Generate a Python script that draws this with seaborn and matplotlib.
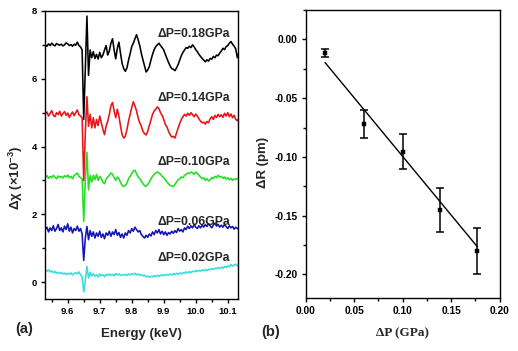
import numpy as np
import pandas as pd
import matplotlib
matplotlib.use("Agg")
import matplotlib.pyplot as plt
import seaborn as sns
from matplotlib.ticker import MultipleLocator, FormatStrFormatter

# ---------------- data: panel (a) ----------------
energy_keV = np.linspace(9.530, 10.135, 122)

chi_018 = [7.00, 6.96, 7.03, 6.98, 7.05, 7.00, 6.97, 7.04, 7.01, 6.99,
           7.02, 6.97, 7.00, 7.06, 7.03, 6.98, 7.01, 6.96, 7.02, 6.99,
           7.08, 6.98, 6.94, 6.85, 4.80, 6.30, 7.85, 6.10, 6.85, 6.62,
           6.80, 6.60, 6.72, 6.58, 6.78, 6.62, 6.70, 6.85, 6.98, 6.70,
           6.82, 7.05, 7.18, 6.85, 6.59, 6.90, 7.08, 6.75, 6.45, 6.30,
           6.22, 6.32, 6.55, 6.74, 6.95, 7.05, 7.18, 7.30, 7.15, 6.98,
           6.75, 6.56, 6.38, 6.20, 6.26, 6.36, 6.55, 6.72, 6.86, 6.95,
           7.00, 7.05, 6.98, 6.92, 6.85, 6.72, 6.60, 6.48, 6.38, 6.30,
           6.28, 6.24, 6.32, 6.42, 6.55, 6.68, 6.78, 6.85, 6.92, 6.90,
           6.96, 6.92, 7.00, 6.94, 6.86, 6.80, 6.72, 6.66, 6.60, 6.55,
           6.50, 6.56, 6.52, 6.60, 6.58, 6.66, 6.62, 6.70, 6.68, 6.76,
           6.82, 6.90, 6.86, 6.95, 6.98, 7.05, 7.10, 7.02, 6.96, 6.88,
           6.62, 6.78]

chi_014 = [4.95, 5.02, 4.90, 4.98, 5.06, 4.92, 4.88, 5.00, 4.94, 5.04,
           4.90, 4.97, 5.03, 4.92, 4.99, 4.86, 4.95, 5.02, 4.91, 5.00,
           5.08, 4.94, 4.90, 4.85, 3.00, 4.40, 5.47, 4.60, 4.95, 4.55,
           4.85, 4.55, 4.80, 4.62, 4.90, 4.70, 4.50, 4.35, 4.60, 4.75,
           4.95, 5.20, 5.30, 5.05, 4.85, 5.10, 4.90, 4.60, 4.35, 4.25,
           4.30, 4.50, 4.75, 4.95, 5.15, 5.32, 5.20, 5.05, 4.85, 4.70,
           4.60, 4.45, 4.38, 4.34, 4.45, 4.62, 4.78, 4.95, 5.05, 5.10,
           5.17, 5.12, 5.00, 4.92, 4.80, 4.65, 4.58, 4.45, 4.35, 4.28,
           4.30, 4.25, 4.40, 4.55, 4.68, 4.80, 4.88, 4.95, 4.90, 4.98,
           4.92, 5.00, 4.94, 4.88, 4.96, 4.90, 4.82, 4.75, 4.70, 4.72,
           4.66, 4.74, 4.70, 4.82, 4.88, 4.80, 4.92, 4.86, 4.95, 4.88,
           4.94, 4.86, 4.98, 4.90, 5.00, 4.88, 4.96, 4.85, 4.92, 4.80,
           4.76, 4.85]

chi_010 = [3.10, 3.14, 3.06, 3.12, 3.08, 3.15, 3.10, 3.05, 3.13, 3.09,
           3.12, 3.07, 3.14, 3.10, 3.16, 3.08, 3.12, 3.05, 3.15, 3.18,
           3.22, 3.12, 3.08, 3.05, 1.79, 3.00, 3.83, 2.72, 3.15, 2.95,
           3.15, 3.02, 3.18, 3.00, 3.12, 3.05, 2.95, 2.90, 3.05, 3.10,
           3.15, 3.22, 3.18, 3.08, 3.00, 3.10, 3.05, 2.95, 2.85, 2.82,
           2.85, 2.92, 3.05, 3.12, 3.20, 3.28, 3.30, 3.20, 3.10, 3.05,
           2.98, 2.90, 2.85, 2.82, 2.88, 2.95, 3.05, 3.12, 3.18, 3.22,
           3.25, 3.22, 3.18, 3.12, 3.08, 3.02, 2.95, 2.90, 2.85, 2.84,
           2.82, 2.88, 2.95, 3.02, 3.05, 3.10, 3.08, 3.15, 3.18, 3.22,
           3.20, 3.25, 3.22, 3.18, 3.25, 3.20, 3.15, 3.10, 3.05, 3.08,
           3.00, 3.05, 2.98, 3.02, 3.08, 3.05, 3.12, 3.08, 3.15, 3.10,
           3.12, 3.06, 3.10, 3.04, 3.08, 3.02, 3.06, 3.00, 3.05, 3.02,
           3.06, 3.02]

chi_006 = [1.55, 1.62, 1.48, 1.60, 1.52, 1.66, 1.50, 1.58, 1.70, 1.52,
           1.60, 1.48, 1.65, 1.55, 1.72, 1.50, 1.62, 1.45, 1.58, 1.52,
           1.65, 1.50, 1.58, 1.42, 0.64, 1.30, 1.64, 1.25, 1.52, 1.35,
           1.48, 1.30, 1.45, 1.35, 1.50, 1.32, 1.42, 1.28, 1.45, 1.38,
           1.50, 1.35, 1.48, 1.40, 1.55, 1.38, 1.46, 1.32, 1.42, 1.30,
           1.45, 1.38, 1.52, 1.45, 1.58, 1.50, 1.62, 1.55, 1.48, 1.52,
           1.40, 1.35, 1.30, 1.38, 1.32, 1.42, 1.36, 1.48, 1.40, 1.52,
           1.45, 1.55, 1.42, 1.50, 1.40, 1.48, 1.38, 1.46, 1.42, 1.50,
           1.44, 1.52, 1.46, 1.58, 1.50, 1.55, 1.48, 1.60, 1.55, 1.65,
           1.58, 1.66, 1.60, 1.70, 1.62, 1.58, 1.66, 1.60, 1.68, 1.62,
           1.70, 1.64, 1.72, 1.66, 1.60, 1.68, 1.74, 1.65, 1.70, 1.62,
           1.68, 1.62, 1.70, 1.64, 1.58, 1.66, 1.60, 1.64, 1.56, 1.62,
           1.58, 1.55]

chi_002 = [0.35, 0.32, 0.36, 0.30, 0.33, 0.28, 0.31, 0.26, 0.29, 0.25,
           0.28, 0.24, 0.27, 0.22, 0.26, 0.23, 0.27, 0.21, 0.25, 0.28,
           0.24, 0.30, 0.22, 0.15, -0.29, 0.05, 0.46, 0.12, 0.28, 0.18,
           0.25, 0.17, 0.22, 0.15, 0.24, 0.18, 0.22, 0.16, 0.23, 0.19,
           0.24, 0.20, 0.23, 0.18, 0.25, 0.21, 0.24, 0.19, 0.22, 0.20,
           0.23, 0.19, 0.24, 0.21, 0.25, 0.22, 0.26, 0.21, 0.24, 0.20,
           0.22, 0.18, 0.20, 0.15, 0.18, 0.14, 0.17, 0.15, 0.19, 0.16,
           0.20, 0.17, 0.21, 0.18, 0.22, 0.19, 0.23, 0.20, 0.24, 0.21,
           0.25, 0.22, 0.26, 0.23, 0.27, 0.24, 0.28, 0.26, 0.30, 0.27,
           0.31, 0.28, 0.32, 0.30, 0.34, 0.31, 0.35, 0.32, 0.36, 0.33,
           0.37, 0.34, 0.38, 0.36, 0.40, 0.37, 0.41, 0.39, 0.43, 0.40,
           0.44, 0.41, 0.46, 0.43, 0.48, 0.45, 0.52, 0.47, 0.50, 0.53,
           0.48, 0.52]

curve_labels = ["ΔP=0.02GPa", "ΔP=0.06GPa", "ΔP=0.10GPa", "ΔP=0.14GPa", "ΔP=0.18GPa"]
curve_colors = ["#36dede", "#1414b4", "#22e022", "#e81418", "#000000"]
label_y = [0.72, 1.76, 3.53, 5.44, 7.31]
label_x = 10.108

# ---------------- data: panel (b) ----------------
dP = [0.020, 0.060, 0.100, 0.138, 0.177]
dR = [-0.0114, -0.0719, -0.0954, -0.1454, -0.180]
dR_err = [0.0033, 0.0117, 0.015, 0.0187, 0.0197]
fit_slope = -0.998
fit_intercept = 0.0002

# ---------------- style ----------------
sns.set_theme(style="ticks")
plt.rcParams["font.family"] = ["Liberation Sans", "DejaVu Sans"]
plt.rcParams["font.weight"] = "bold"
plt.rcParams["mathtext.fontset"] = "custom"
plt.rcParams["mathtext.rm"] = "Liberation Sans:bold"
plt.rcParams["mathtext.it"] = "Liberation Sans:bold"
plt.rcParams["mathtext.bf"] = "Liberation Sans:bold"
plt.rcParams["axes.linewidth"] = 1.0
for ax_ in ("xtick", "ytick"):
    plt.rcParams[f"{ax_}.direction"] = "out"
    plt.rcParams[f"{ax_}.major.size"] = 3.2
    plt.rcParams[f"{ax_}.minor.size"] = 2.0
    plt.rcParams[f"{ax_}.major.width"] = 1.0
    plt.rcParams[f"{ax_}.minor.width"] = 1.0
    plt.rcParams[f"{ax_}.labelsize"] = 7
    plt.rcParams[f"{ax_}.color"] = "black"
    plt.rcParams[f"{ax_}.major.pad"] = 2.5

fig = plt.figure(figsize=(5.18, 3.51), dpi=100)
ax1 = fig.add_axes([45 / 518, 1 - 299 / 351, (238.3 - 45) / 518, (299 - 11) / 351])
ax2 = fig.add_axes([305.7 / 518, 1 - 298 / 351, (499.7 - 305.7) / 518, (298 - 10) / 351])

# panel (a)
series = [chi_002, chi_006, chi_010, chi_014, chi_018]
df = pd.concat([pd.DataFrame({"E": energy_keV, "chi": s, "curve": lab})
                for s, lab in zip(series, curve_labels)], ignore_index=True)
sns.lineplot(data=df, x="E", y="chi", hue="curve", hue_order=curve_labels,
             palette=curve_colors, estimator=None, sort=False, legend=False,
             lw=1.15, ax=ax1)
for lab, yy in zip(curve_labels, label_y):
    ax1.text(label_x, yy, lab, ha="right", va="center", fontsize=8.8, fontweight="bold")

ax1.set_xlim(9.529, 10.133)
ax1.set_ylim(-0.5, 8)
ax1.xaxis.set_major_locator(MultipleLocator(0.1))
ax1.xaxis.set_minor_locator(MultipleLocator(0.05))
ax1.yaxis.set_major_locator(MultipleLocator(2))
ax1.yaxis.set_minor_locator(MultipleLocator(1))
ax1.tick_params(axis="both", which="major", labelsize=6.8)
ax1.set_xlabel("Energy (keV)", fontsize=9.5, fontweight="bold")
ax1.set_ylabel(r"Δχ (×10$^{-3}$)", fontsize=9.5, fontweight="bold")
ax1.yaxis.set_label_coords(-0.103, 0.42)
ax1.xaxis.set_label_coords(0.5, -0.1)
fig.text(24 / 518, 1 - 329 / 351, "(a)", fontsize=10.5, fontweight="bold", ha="center", va="center")

# panel (b)
dfb = pd.DataFrame({"dP": dP, "dR": dR, "err": dR_err})
ax2.errorbar(dfb["dP"], dfb["dR"], yerr=dfb["err"], fmt="none", ecolor="black",
             elinewidth=1.1, capsize=2.6, capthick=1.1)
sns.scatterplot(data=dfb, x="dP", y="dR", marker="s", color="black", s=10,
                edgecolor="black", linewidth=0.3, ax=ax2, zorder=3)
fit_x = np.array([min(dP), max(dP)])
fit_df = pd.DataFrame({"x": fit_x, "y": fit_intercept + fit_slope * fit_x})
sns.lineplot(data=fit_df, x="x", y="y", color="black", lw=1.0, ax=ax2)

ax2.set_xlim(0, 0.2)
ax2.set_ylim(-0.22, 0.025)
ax2.xaxis.set_major_locator(MultipleLocator(0.05))
ax2.xaxis.set_minor_locator(MultipleLocator(0.025))
ax2.yaxis.set_major_locator(MultipleLocator(0.05))
ax2.yaxis.set_minor_locator(MultipleLocator(0.025))
ax2.xaxis.set_major_formatter(FormatStrFormatter("%.2f"))
ax2.yaxis.set_major_formatter(FormatStrFormatter("%.2f"))
ax2.tick_params(axis="both", which="major", labelsize=7.4)
ax2.set_xlabel("ΔP (GPa)", fontsize=9.5, fontweight="bold",
               family=["Liberation Serif", "DejaVu Serif"])
ax2.xaxis.set_label_coords(0.5, -0.1)
ax2.set_ylabel("ΔR (pm)", fontsize=9.5, fontweight="bold")
ax2.yaxis.set_label_coords(-0.19, 0.47)
fig.text(271 / 518, 1 - 332 / 351, "(b)", fontsize=10.5, fontweight="bold", ha="center", va="center")

for ax in (ax1, ax2):
    for sp in ax.spines.values():
        sp.set_visible(True)
        sp.set_color("black")
    ax.tick_params(which="both", top=False, right=False)
    for t in ax.get_xticklabels() + ax.get_yticklabels():
        t.set_fontweight("bold")

fig.savefig("out.png", dpi=100)
